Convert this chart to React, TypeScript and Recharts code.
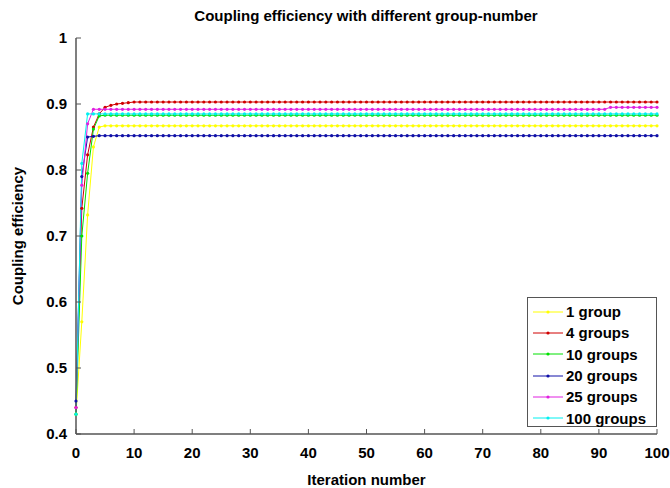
import React from 'react';
import { LineChart, Line, XAxis, YAxis, Legend } from 'recharts';

const iterations = [
  0, 1, 2, 3, 4, 5, 6, 7, 8, 9,
  10, 11, 12, 13, 14, 15, 16, 17, 18, 19,
  20, 21, 22, 23, 24, 25, 26, 27, 28, 29,
  30, 31, 32, 33, 34, 35, 36, 37, 38, 39,
  40, 41, 42, 43, 44, 45, 46, 47, 48, 49,
  50, 51, 52, 53, 54, 55, 56, 57, 58, 59,
  60, 61, 62, 63, 64, 65, 66, 67, 68, 69,
  70, 71, 72, 73, 74, 75, 76, 77, 78, 79,
  80, 81, 82, 83, 84, 85, 86, 87, 88, 89,
  90, 91, 92, 93, 94, 95, 96, 97, 98, 99,
  100,
];

const group1 = [
  0.43, 0.57, 0.732, 0.835, 0.865, 0.867, 0.867, 0.867, 0.867, 0.867,
  0.867, 0.867, 0.867, 0.867, 0.867, 0.867, 0.867, 0.867, 0.867, 0.867,
  0.867, 0.867, 0.867, 0.867, 0.867, 0.867, 0.867, 0.867, 0.867, 0.867,
  0.867, 0.867, 0.867, 0.867, 0.867, 0.867, 0.867, 0.867, 0.867, 0.867,
  0.867, 0.867, 0.867, 0.867, 0.867, 0.867, 0.867, 0.867, 0.867, 0.867,
  0.867, 0.867, 0.867, 0.867, 0.867, 0.867, 0.867, 0.867, 0.867, 0.867,
  0.867, 0.867, 0.867, 0.867, 0.867, 0.867, 0.867, 0.867, 0.867, 0.867,
  0.867, 0.867, 0.867, 0.867, 0.867, 0.867, 0.867, 0.867, 0.867, 0.867,
  0.867, 0.867, 0.867, 0.867, 0.867, 0.867, 0.867, 0.867, 0.867, 0.867,
  0.867, 0.867, 0.867, 0.867, 0.867, 0.867, 0.867, 0.867, 0.867, 0.867,
  0.867,
];

const group4 = [
  0.44, 0.742, 0.823, 0.865, 0.885, 0.895, 0.898, 0.9, 0.901, 0.902,
  0.903, 0.903, 0.903, 0.903, 0.903, 0.903, 0.903, 0.903, 0.903, 0.903,
  0.903, 0.903, 0.903, 0.903, 0.903, 0.903, 0.903, 0.903, 0.903, 0.903,
  0.903, 0.903, 0.903, 0.903, 0.903, 0.903, 0.903, 0.903, 0.903, 0.903,
  0.903, 0.903, 0.903, 0.903, 0.903, 0.903, 0.903, 0.903, 0.903, 0.903,
  0.903, 0.903, 0.903, 0.903, 0.903, 0.903, 0.903, 0.903, 0.903, 0.903,
  0.903, 0.903, 0.903, 0.903, 0.903, 0.903, 0.903, 0.903, 0.903, 0.903,
  0.903, 0.903, 0.903, 0.903, 0.903, 0.903, 0.903, 0.903, 0.903, 0.903,
  0.903, 0.903, 0.903, 0.903, 0.903, 0.903, 0.903, 0.903, 0.903, 0.903,
  0.903, 0.903, 0.903, 0.903, 0.903, 0.903, 0.903, 0.903, 0.903, 0.903,
  0.903,
];

const group10 = [
  0.43, 0.7, 0.795, 0.862, 0.882, 0.883, 0.883, 0.883, 0.883, 0.883,
  0.883, 0.883, 0.883, 0.883, 0.883, 0.883, 0.883, 0.883, 0.883, 0.883,
  0.883, 0.883, 0.883, 0.883, 0.883, 0.883, 0.883, 0.883, 0.883, 0.883,
  0.883, 0.883, 0.883, 0.883, 0.883, 0.883, 0.883, 0.883, 0.883, 0.883,
  0.883, 0.883, 0.883, 0.883, 0.883, 0.883, 0.883, 0.883, 0.883, 0.883,
  0.883, 0.883, 0.883, 0.883, 0.883, 0.883, 0.883, 0.883, 0.883, 0.883,
  0.883, 0.883, 0.883, 0.883, 0.883, 0.883, 0.883, 0.883, 0.883, 0.883,
  0.883, 0.883, 0.883, 0.883, 0.883, 0.883, 0.883, 0.883, 0.883, 0.883,
  0.883, 0.883, 0.883, 0.883, 0.883, 0.883, 0.883, 0.883, 0.883, 0.883,
  0.883, 0.883, 0.883, 0.883, 0.883, 0.883, 0.883, 0.883, 0.883, 0.883,
  0.883,
];

const group20 = [
  0.45, 0.79, 0.85, 0.851, 0.852, 0.852, 0.852, 0.852, 0.852, 0.852,
  0.852, 0.852, 0.852, 0.852, 0.852, 0.852, 0.852, 0.852, 0.852, 0.852,
  0.852, 0.852, 0.852, 0.852, 0.852, 0.852, 0.852, 0.852, 0.852, 0.852,
  0.852, 0.852, 0.852, 0.852, 0.852, 0.852, 0.852, 0.852, 0.852, 0.852,
  0.852, 0.852, 0.852, 0.852, 0.852, 0.852, 0.852, 0.852, 0.852, 0.852,
  0.852, 0.852, 0.852, 0.852, 0.852, 0.852, 0.852, 0.852, 0.852, 0.852,
  0.852, 0.852, 0.852, 0.852, 0.852, 0.852, 0.852, 0.852, 0.852, 0.852,
  0.852, 0.852, 0.852, 0.852, 0.852, 0.852, 0.852, 0.852, 0.852, 0.852,
  0.852, 0.852, 0.852, 0.852, 0.852, 0.852, 0.852, 0.852, 0.852, 0.852,
  0.852, 0.852, 0.852, 0.852, 0.852, 0.852, 0.852, 0.852, 0.852, 0.852,
  0.852,
];

const group25 = [
  0.44, 0.777, 0.87, 0.892, 0.892, 0.892, 0.892, 0.892, 0.892, 0.892,
  0.892, 0.892, 0.892, 0.892, 0.892, 0.892, 0.892, 0.892, 0.892, 0.892,
  0.892, 0.892, 0.892, 0.892, 0.892, 0.892, 0.892, 0.892, 0.892, 0.892,
  0.892, 0.892, 0.892, 0.892, 0.892, 0.892, 0.892, 0.892, 0.892, 0.892,
  0.892, 0.892, 0.892, 0.892, 0.892, 0.892, 0.892, 0.892, 0.892, 0.892,
  0.892, 0.892, 0.892, 0.892, 0.892, 0.892, 0.892, 0.892, 0.892, 0.892,
  0.892, 0.892, 0.892, 0.892, 0.892, 0.892, 0.892, 0.892, 0.892, 0.892,
  0.892, 0.892, 0.892, 0.892, 0.892, 0.892, 0.892, 0.892, 0.892, 0.892,
  0.892, 0.892, 0.892, 0.892, 0.892, 0.892, 0.892, 0.892, 0.892, 0.892,
  0.892, 0.892, 0.895, 0.895, 0.895, 0.895, 0.895, 0.895, 0.895, 0.895,
  0.895,
];

const group100 = [
  0.43, 0.81, 0.885, 0.885, 0.885, 0.885, 0.885, 0.885, 0.885, 0.885,
  0.885, 0.885, 0.885, 0.885, 0.885, 0.885, 0.885, 0.885, 0.885, 0.885,
  0.885, 0.885, 0.885, 0.885, 0.885, 0.885, 0.885, 0.885, 0.885, 0.885,
  0.885, 0.885, 0.885, 0.885, 0.885, 0.885, 0.885, 0.885, 0.885, 0.885,
  0.885, 0.885, 0.885, 0.885, 0.885, 0.885, 0.885, 0.885, 0.885, 0.885,
  0.885, 0.885, 0.885, 0.885, 0.885, 0.885, 0.885, 0.885, 0.885, 0.885,
  0.885, 0.885, 0.885, 0.885, 0.885, 0.885, 0.885, 0.885, 0.885, 0.885,
  0.885, 0.885, 0.885, 0.885, 0.885, 0.885, 0.885, 0.885, 0.885, 0.885,
  0.885, 0.885, 0.885, 0.885, 0.885, 0.885, 0.885, 0.885, 0.885, 0.885,
  0.885, 0.885, 0.885, 0.885, 0.885, 0.885, 0.885, 0.885, 0.885, 0.885,
  0.885,
];

const seriesNames = ['1 group', '4 groups', '10 groups', '20 groups', '25 groups', '100 groups'];
const seriesValues = [group1, group4, group10, group20, group25, group100];
const seriesColors = ['#ffff00', '#d00000', '#00e000', '#1010a8', '#e020e0', '#00f0f0'];

const xTicks = [0, 10, 20, 30, 40, 50, 60, 70, 80, 90, 100];
const yTicks = [0.4, 0.5, 0.6, 0.7, 0.8, 0.9, 1];

const chartTitle = 'Coupling efficiency with different group-number';
const xLabel = 'Iteration number';
const yLabel = 'Coupling efficiency';

const data = iterations.map((it, i) => {
  const row: Record<string, number> = { it };
  seriesValues.forEach((vals, s) => {
    row['s' + s] = vals[i];
  });
  return row;
});

const FONT = '"Liberation Sans", Arial, sans-serif';
const AXIS = '#555555';

const LegendBox = () => (
  <div
    style={{
      width: 130,
      height: 130,
      border: `1px solid ${AXIS}`,
      background: '#fff',
      boxSizing: 'border-box',
      paddingTop: 3,
      fontFamily: FONT,
      fontWeight: 'bold',
      fontSize: 15,
      color: '#000',
    }}
  >
    {seriesNames.map((name, i) => (
      <div key={name} style={{ height: 21.3, display: 'flex', alignItems: 'center' }}>
        <svg width={38} height={10} style={{ flex: 'none' }}>
          <line x1={5} y1={5} x2={35} y2={5} stroke={seriesColors[i]} strokeWidth={1} />
          <circle cx={20} cy={5} r={1.6} fill={seriesColors[i]} />
        </svg>
        <span style={{ lineHeight: '15px' }}>{name}</span>
      </div>
    ))}
  </div>
);

export default function App() {
  return (
    <div style={{ position: 'absolute', left: 0, top: 0, width: 670, height: 488, background: '#fff' }}>
      <div
        style={{
          position: 'absolute',
          left: 0,
          width: 732,
          top: 7,
          textAlign: 'center',
          fontFamily: FONT,
          fontWeight: 'bold',
          fontSize: 15,
          lineHeight: '18px',
        }}
      >
        {chartTitle}
      </div>
      <div
        style={{
          position: 'absolute',
          left: 76,
          width: 581,
          top: 471,
          textAlign: 'center',
          fontFamily: FONT,
          fontWeight: 'bold',
          fontSize: 15,
          lineHeight: '18px',
        }}
      >
        {xLabel}
      </div>
      <div
        style={{
          position: 'absolute',
          left: 18 - 100,
          top: 236 - 9,
          width: 200,
          textAlign: 'center',
          fontFamily: FONT,
          fontWeight: 'bold',
          fontSize: 15,
          lineHeight: '18px',
          transform: 'rotate(-90deg)',
        }}
      >
        {yLabel}
      </div>
      <div style={{ position: 'absolute', left: 0, top: 0 }}>
        <LineChart width={670} height={488} data={data} margin={{ top: 38, right: 13, left: 0, bottom: 0 }}>
          <XAxis
            dataKey="it"
            type="number"
            domain={[0, 100]}
            ticks={xTicks}
            height={54}
            tickSize={-5}
            tickMargin={18}
            axisLine={{ stroke: AXIS, strokeWidth: 1.5 }}
            tickLine={{ stroke: AXIS }}
            tick={{ fill: '#000', fontSize: 15, fontWeight: 'bold', fontFamily: FONT }}
            interval={0}
          />
          <XAxis
            xAxisId="top"
            orientation="top"
            dataKey="it"
            type="number"
            domain={[0, 100]}
            ticks={xTicks}
            height={0}
            tickSize={-5}
            tick={false}
            axisLine={{ stroke: AXIS, strokeWidth: 1.5 }}
            tickLine={{ stroke: AXIS }}
            interval={0}
          />
          <YAxis
            type="number"
            domain={[0.4, 1]}
            ticks={yTicks}
            width={76}
            tickSize={-5}
            tickMargin={14}
            axisLine={{ stroke: AXIS, strokeWidth: 1.5 }}
            tickLine={{ stroke: AXIS }}
            tick={{ fill: '#000', fontSize: 15, fontWeight: 'bold', fontFamily: FONT }}
            tickFormatter={(v: number) => String(v)}
            interval={0}
            allowDataOverflow
          />
          <YAxis
            yAxisId="right"
            orientation="right"
            type="number"
            domain={[0.4, 1]}
            ticks={yTicks}
            width={0}
            tickSize={-5}
            tick={false}
            axisLine={{ stroke: AXIS, strokeWidth: 1.5 }}
            tickLine={{ stroke: AXIS }}
            interval={0}
          />
          {seriesNames.map((name, s) => (
            <Line
              key={name}
              type="linear"
              dataKey={'s' + s}
              name={name}
              stroke={seriesColors[s]}
              strokeWidth={1}
              dot={{ r: 1.6, fill: seriesColors[s], stroke: seriesColors[s], strokeWidth: 0 }}
              activeDot={false}
              isAnimationActive={false}
            />
          ))}
          <Legend
            layout="vertical"
            align="center"
            verticalAlign="middle"
            content={() => <LegendBox />}
            wrapperStyle={{ position: 'absolute', left: 527, top: 297, width: 130, height: 130 }}
          />
        </LineChart>
      </div>
    </div>
  );
}
